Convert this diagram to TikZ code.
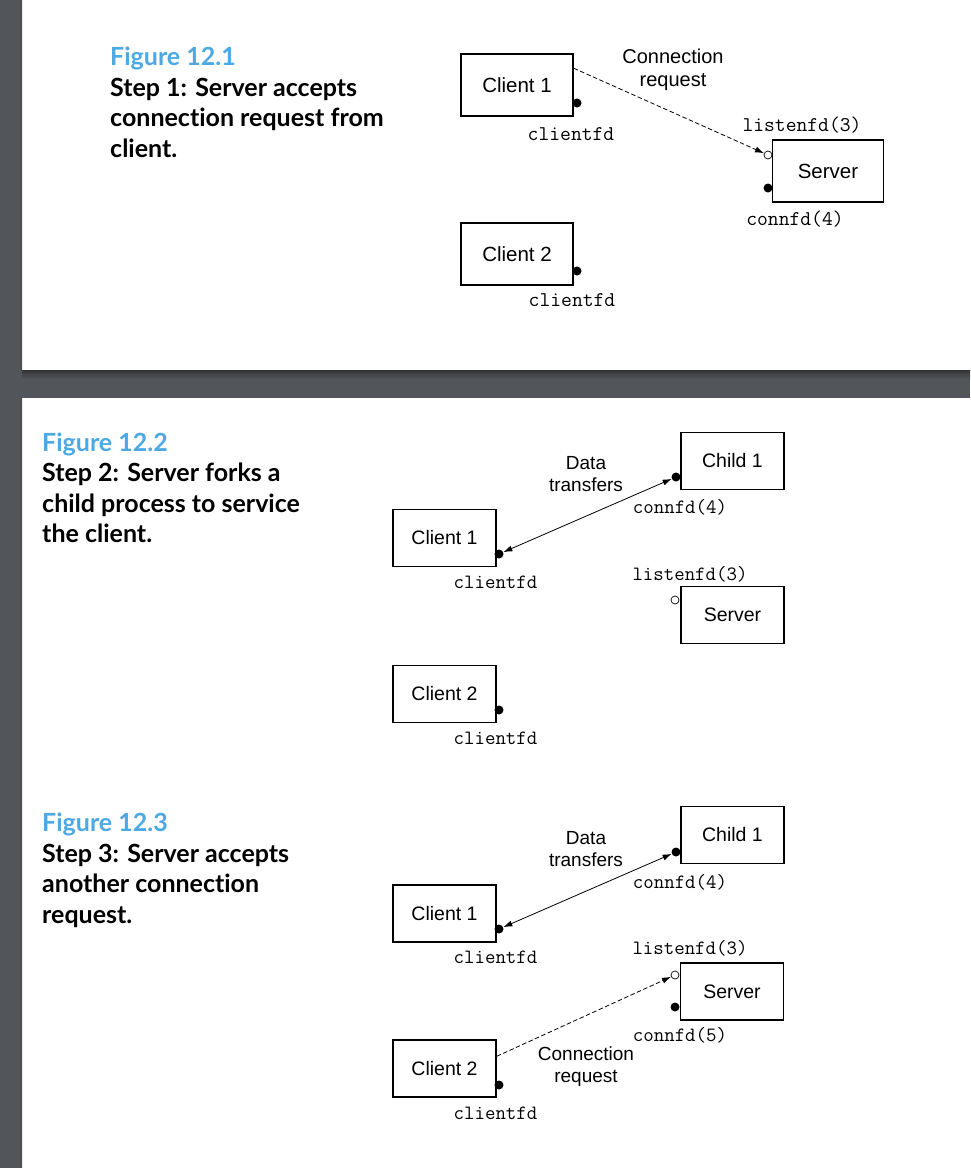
\documentclass[tikz,border=0pt]{standalone}
\usepackage{fontspec}
\setmainfont{Liberation Sans}
\newfontfamily\capfont[Ligatures=NoCommon]{Lato}
\usepackage{tikz}
\usetikzlibrary{arrows.meta,positioning}
\definecolor{figblue}{HTML}{4DA9E3}
\definecolor{panelgray}{HTML}{52565A}
\tikzset{>={Latex[length=9pt,width=6pt]}}
\tikzset{
  proc/.style={draw, line width=1.5pt, minimum width=112pt, minimum height=62pt,
    font=\fontsize{20.5}{24}\selectfont},
  fdbusy/.style={circle, fill=black, inner sep=0pt, minimum size=9pt},
  fdopen/.style={circle, draw, fill=white, line width=0.7pt, inner sep=0pt, minimum size=8pt},
  fdname/.style={inner sep=0pt, font=\ttfamily\fontsize{21}{24}\selectfont},
  note/.style={align=center, inner sep=0pt, font=\fontsize{20}{23}\selectfont},
  caption/.style={anchor=base west, align=left, inner sep=0pt,
    font=\capfont\bfseries\fontsize{25}{30.5}\selectfont},
  link/.style={line width=0.8pt},
}

\begin{document}
\begin{tikzpicture}[x=1pt,y=-1pt]
  \useasboundingbox (0,0) rectangle (970,1168);
  % page background
  \fill[white] (0,0) rectangle (970,1168);
  \fill[panelgray] (0,0) rectangle (22,1168);
  \fill[panelgray] (0,370) rectangle (970,398);
  \shade[top color=black!80, bottom color=panelgray] (22,370) rectangle (970,379);
  \shade[left color=panelgray, right color=black!70] (17,0) rectangle (22,370);
  \shade[left color=panelgray, right color=black!70] (17,398) rectangle (22,1168);

  % Figure 12.1 (caption anchored at its last baseline)
  \node[caption] (cap1) at (110,157) {{\color{figblue}Figure 12.1}\\Step 1: Server accepts\\connection request from\\client.};
  \node[proc] (c1) at (517,85) {Client 1};
  \node[fdbusy] (c1fd) at (577,103) {};
  \node[fdname] (c1name) at (571,134) {clientfd};
  \node[proc, minimum width=111pt, minimum height=62pt] (srv) at (828,171) {Server};
  \node[fdopen] (lfd) at (768,155) {};
  \node[fdbusy] (cfd) at (768,188) {};
  \node[fdname] (lname) at (802,125) {listenfd(3)};
  \node[fdname] (cname) at (795,219) {connfd(4)};
  \node[note] (req) at (673,70) {Connection\\request};
  \draw[link, dashed, dash pattern=on 4.5pt off 2.5pt, ->] ([yshift=-15pt]c1.north east) -- (lfd);
  \node[proc] (c2) at (517,254) {Client 2};
  \node[fdbusy] (c2fd) at (577,271) {};
  \node[fdname] (c2name) at (572,300) {clientfd};

  % Figure 12.2 and 12.3
  \begin{scope}[proc/.append style={minimum width=103pt, minimum height=57pt, font=\fontsize{19.5}{23}\selectfont},
      fdname/.append style={font=\ttfamily\fontsize{20.3}{24}\selectfont},
      note/.append style={font=\fontsize{19}{22}\selectfont}]
    \node[caption] (cap2) at (42,542.5) {{\color{figblue}Figure 12.2}\\Step 2: Server forks a\\child process to service\\the client.};
    \node[proc] (ch) at (732.5,461) {Child 1};
    \node[fdbusy] (chfd) at (676,477) {};
    \node[fdname] (chname) at (680,507) {connfd(4)};
    \node[note] (data) at (586,474) {Data\\transfers};
    \node[proc] (d1) at (444.5,538) {Client 1};
    \node[fdbusy] (d1fd) at (499,554) {};
    \node[fdname] (d1name) at (495.5,582) {clientfd};
    \draw[link, <->] (d1fd) -- (chfd);
    \node[fdname] (dlname) at (690,574) {listenfd(3)};
    \node[proc] (dsrv) at (732.5,615) {Server};
    \node[fdopen] (dlfd) at (675,600) {};
    \node[proc] (d2) at (444.5,694) {Client 2};
    \node[fdbusy] (d2fd) at (499,710) {};
    \node[fdname] (d2name) at (495.5,738) {clientfd};

    \node[caption] (cap3) at (42,923) {{\color{figblue}Figure 12.3}\\Step 3: Server accepts\\another connection\\request.};
    \node[proc] (eh) at (732.5,835) {Child 1};
    \node[fdbusy] (ehfd) at (676,852) {};
    \node[fdname] (ehname) at (680,882) {connfd(4)};
    \node[note] (edata) at (586,849) {Data\\transfers};
    \node[proc] (e1) at (444.5,913.5) {Client 1};
    \node[fdbusy] (e1fd) at (499,929) {};
    \node[fdname] (e1name) at (495.5,957) {clientfd};
    \draw[link, <->] (e1fd) -- (ehfd);
    \node[fdname] (elname) at (690,948) {listenfd(3)};
    \node[proc] (esrv) at (732,991.5) {Server};
    \node[fdopen] (elfd) at (675,975) {};
    \node[fdbusy] (ecfd) at (675,1007) {};
    \node[fdname] (ecname) at (680,1035) {connfd(5)};
    \node[proc] (e2) at (444.5,1068.5) {Client 2};
    \node[fdbusy] (e2fd) at (499,1085) {};
    \node[fdname] (e2name) at (495.5,1113) {clientfd};
    \node[note] (ereq) at (586,1067) {Connection\\request};
    \draw[link, dashed, dash pattern=on 4.5pt off 2.5pt, ->] ([yshift=-17pt]e2.north east) -- (elfd);
  \end{scope}
\end{tikzpicture}
\end{document}
